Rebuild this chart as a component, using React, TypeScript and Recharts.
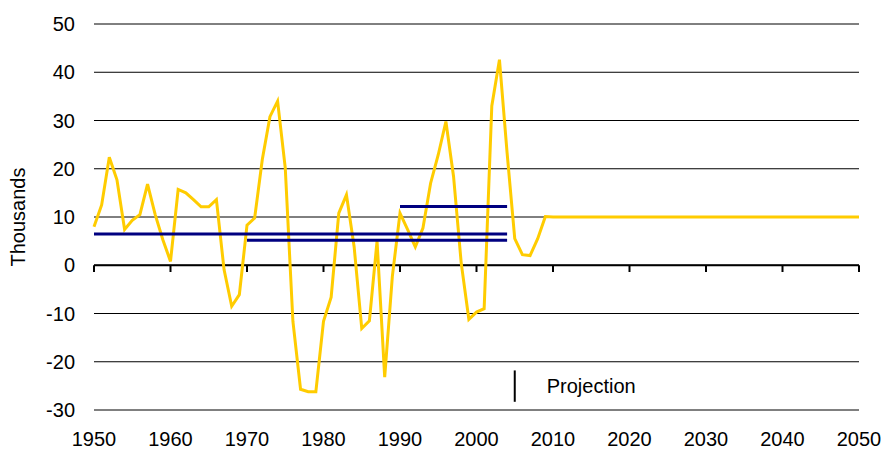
import { LineChart, Line, XAxis, YAxis, CartesianGrid, ReferenceLine } from 'recharts';

// net migration, thousands, 1950-2009 (one value per year)
const histValues = [
  8, 12.5, 22.4, 17.7, 7.4, 9.3, 10.5, 16.8, 10.5, 5.3,
  0.8, 15.7, 15, 13.6, 12.1, 12.1, 13.6, -0.9, -8.5, -6.1,
  8.3, 9.8, 21.9, 30.8, 34, 20.2, -11.6, -25.7, -26.2, -26.2,
  -11.6, -6.6, 10.8, 14.6, 3.9, -13.1, -11.5, 5, -23.2, -2.3,
  10.8, 7.4, 3.8, 7.7, 17, 22.9, 29.8, 18.4, 0.5, -11.2,
  -9.7, -9, 33, 42.6, 23.3, 5.5, 2.2, 2, 5.5, 10.1,
];
const histStart = 1950;

// projection
const projYears = [2010, 2020, 2030, 2040, 2050];
const projValues = [10, 10, 10, 10, 10];

// period averages
const avgPeriods = [
  { key: 'avg1950', from: 1950, to: 2004, value: 6.5 },
  { key: 'avg1970', from: 1970, to: 2004, value: 5.2 },
  { key: 'avg1990', from: 1990, to: 2004, value: 12.2 },
];

const xTicks = [1950, 1960, 1970, 1980, 1990, 2000, 2010, 2020, 2030, 2040, 2050];
const yTicks = [-30, -20, -10, 0, 10, 20, 30, 40, 50];

const projectionYear = 2005;
const projectionMark = [-21.8, -28.3];
const tickDepth = -1.4;

type Row = { year: number; value: number; [k: string]: number | null };

const rows: Row[] = [
  ...histValues.map((v, i) => ({ year: histStart + i, value: v })),
  ...projYears.map((y, i) => ({ year: y, value: projValues[i] })),
].map((r) => {
  const row: Row = { ...r };
  avgPeriods.forEach((p) => {
    row[p.key] = r.year >= p.from && r.year <= p.to ? p.value : null;
  });
  return row;
});

const font = '"Liberation Sans", Arial, sans-serif';
const fs = 20;

export default function App() {
  return (
    <div style={{ position: 'absolute', left: 0, top: 0, width: 882, height: 450, background: '#fff', fontFamily: font }}>
      <LineChart width={882} height={450} data={rows} margin={{ top: 24, right: 23, bottom: 10, left: 0 }}>
        <CartesianGrid horizontal vertical={false} stroke="#000" strokeWidth={1} />
        <XAxis
          dataKey="year"
          type="number"
          domain={[1950, 2050]}
          ticks={xTicks}
          height={30}
          axisLine={false}
          tickLine={false}
          tickMargin={16}
          tick={{ fill: '#000', fontSize: fs, fontFamily: font }}
        />
        <YAxis
          type="number"
          domain={[-30, 50]}
          ticks={yTicks}
          width={94}
          axisLine={false}
          tickLine={false}
          tickMargin={13}
          tick={{ fill: '#000', fontSize: fs, fontFamily: font }}
          label={{
            content: ({ viewBox }: any) => {
              const cx = viewBox.x + 18;
              const cy = viewBox.y + viewBox.height / 2;
              return (
                <text
                  x={cx}
                  y={cy}
                  transform={`rotate(-90 ${cx} ${cy})`}
                  textAnchor="middle"
                  dominantBaseline="central"
                  fontSize={fs}
                  fontFamily={font}
                  fill="#000"
                >
                  Thousands
                </text>
              );
            },
          }}
        />
        <ReferenceLine y={0} stroke="#000" strokeWidth={2} />
        {xTicks.map((t) => (
          <ReferenceLine
            key={t}
            segment={[{ x: t, y: 0 }, { x: t, y: tickDepth }]}
            stroke="#000"
            strokeWidth={2}
          />
        ))}
        <ReferenceLine
          segment={[{ x: projectionYear, y: projectionMark[0] }, { x: projectionYear, y: projectionMark[1] }]}
          stroke="#000"
          strokeWidth={2}
          label={{ value: 'Projection', position: 'right', offset: 32, fill: '#000', fontSize: fs, fontFamily: font }}
        />
        <Line type="linear" dataKey="value" stroke="#FFCC00" strokeWidth={3} dot={false} isAnimationActive={false} />
        {avgPeriods.map((p) => (
          <Line
            key={p.key}
            type="linear"
            dataKey={p.key}
            stroke="#000080"
            strokeWidth={3}
            dot={false}
            connectNulls={false}
            isAnimationActive={false}
          />
        ))}
      </LineChart>
    </div>
  );
}
